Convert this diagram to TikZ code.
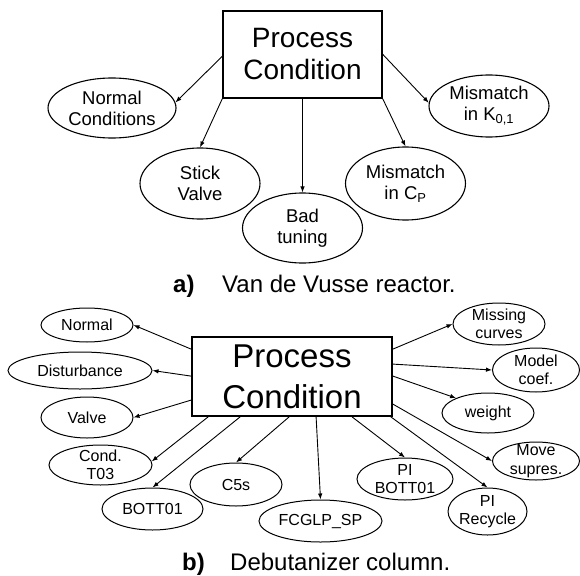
\documentclass[tikz,border=0pt]{standalone}
\usepackage{fontspec}
\setmainfont{Liberation Sans}
\usetikzlibrary{shapes.geometric,arrows.meta,calc}
\begin{document}
\begin{tikzpicture}[x=1pt,y=-1pt,
  bigbox/.style={draw,line width=1.4pt,inner sep=0pt,align=center},
  ovalA/.style={draw,ellipse,inner sep=0pt,line width=1.1pt},
  ovalB/.style={draw,ellipse,inner sep=0pt,line width=1pt},
  txtA/.style={align=center,inner sep=0pt,font=\fontsize{18.5}{21}\selectfont},
  txtB/.style={align=center,inner sep=0pt,font=\fontsize{16}{18.5}\selectfont},
  link/.style={-{Latex[length=6pt,width=4.5pt]},line width=0.9pt},
  capnum/.style={anchor=base west,inner sep=0pt,font=\fontsize{24}{28}\selectfont\bfseries},
  captext/.style={anchor=base west,inner sep=0pt,font=\fontsize{24}{28}\selectfont},
]
\useasboundingbox[fill=white] (0,0) rectangle (580,575);

% ---------- a) Van de Vusse reactor ----------
\node[bigbox,minimum width=159pt,minimum height=87pt,
      font=\fontsize{28}{32}\selectfont] (B1) at (302.5,54.5) {Process\\Condition};

\node[ovalA,minimum width=128pt,minimum height=60pt,
      label={[txtA]center:Normal\\Conditions}] (nNC) at (112,108) {};
\node[ovalA,minimum width=120pt,minimum height=71pt,
      label={[txtA]center:Stick\\Valve}] (nSV) at (200,183.5) {};
\node[ovalA,minimum width=120pt,minimum height=70pt,
      label={[txtA]center:Bad\\tuning}] (nBT) at (302.5,228) {};
\node[ovalA,minimum width=120pt,minimum height=73pt,
      label={[txtA]center:Mismatch\\in C\textsubscript{P}}] (nCp) at (405.5,183.5) {};
\node[ovalA,minimum width=120pt,minimum height=62pt,
      label={[txtA]center:Mismatch\\in K\textsubscript{0,1}}] (nK) at (489,106) {};

\coordinate (a1) at ($(B1.north west)+(0,46)$);
\coordinate (a5) at ($(B1.north east)+(0,44)$);
\draw[link] (a1) -- (nNC.5);
\draw[link] (B1.south west) -- (nSV.north);
\draw[link] (B1.south) -- (nBT.north);
\draw[link] (B1.south east) -- (nCp.north);
\draw[link] (a5) -- (nK.177);

\node[capnum] (capA) at (173,292) {a)};
\node[captext] (capAt) at (222,292) {Van de Vusse reactor.};

% ---------- b) Debutanizer column ----------
\node[bigbox,line width=1.8pt,minimum width=200pt,minimum height=79pt,
      font=\fontsize{33}{41}\selectfont] (B2) at (292,376.5) {Process\\Condition};

\node[ovalB,minimum width=92pt,minimum height=34pt,
      label={[txtB]center:Normal}] (mNormal) at (87,325) {};
\node[ovalB,minimum width=144pt,minimum height=37pt,
      label={[txtB]center:Disturbance}] (mDist) at (80,370.5) {};
\node[ovalB,minimum width=92pt,minimum height=41pt,
      label={[txtB]center:Valve}] (mValve) at (87,417.5) {};
\node[ovalB,minimum width=103pt,minimum height=40pt,
      label={[txtB]center:Cond.\\T03}] (mCond) at (100.5,465) {};
\node[ovalB,minimum width=101pt,minimum height=42pt,
      label={[txtB]center:BOTT01}] (mBott) at (152.5,509) {};
\node[ovalB,minimum width=92pt,minimum height=43pt,
      label={[txtB]center:C5s}] (mC5) at (236,484.5) {};
\node[ovalB,minimum width=123pt,minimum height=42pt,
      label={[txtB]center:FCGLP\_SP}] (mFC) at (320.5,521) {};
\node[ovalB,minimum width=96pt,minimum height=42pt,
      label={[txtB]center:PI\\BOTT01}] (mPIB) at (405,479) {};
\node[ovalB,minimum width=79pt,minimum height=47pt,
      label={[txtB]center:PI\\Recycle}] (mPIR) at (487.5,511.5) {};
\node[ovalB,minimum width=87pt,minimum height=38pt,
      label={[txtB]center:Move\\supres.}] (mMove) at (536,461) {};
\node[ovalB,minimum width=92pt,minimum height=40pt,
      label={[txtB]center:weight}] (mWeight) at (488,413) {};
\node[ovalB,minimum width=87pt,minimum height=44pt,
      label={[txtB]center:Model\\coef.}] (mModel) at (536,370) {};
\node[ovalB,minimum width=92pt,minimum height=42pt,
      label={[txtB]center:Missing\\curves}] (mMiss) at (499,324) {};

% start points on the box outline
\coordinate (bL1) at ($(B2.north west)+(0,13)$);
\coordinate (bL2) at ($(B2.north west)+(0,40)$);
\coordinate (bL3) at ($(B2.north west)+(0,64)$);
\coordinate (bB1) at ($(B2.south west)+(17,0)$);
\coordinate (bB2) at ($(B2.south west)+(49,0)$);
\coordinate (bB3) at ($(B2.south west)+(98,0)$);
\coordinate (bB4) at ($(B2.south west)+(125,0)$);
\coordinate (bB5) at ($(B2.south west)+(161,0)$);
\coordinate (bB6) at ($(B2.south east)+(-2,0)$);
\coordinate (bR1) at ($(B2.north east)+(0,13)$);
\coordinate (bR2) at ($(B2.north east)+(0,28)$);
\coordinate (bR3) at ($(B2.north east)+(0,40)$);
\coordinate (bR4) at ($(B2.north east)+(0,68)$);

\draw[link] (bL1) -- (mNormal.east);
\draw[link] (bL2) -- (mDist.east);
\draw[link] (bL3) -- (mValve.east);
\draw[link] (bB1) -- (mCond.4);
\draw[link] (bB2) -- (mBott.north);
\draw[link] (bB3) -- (mC5.north);
\draw[link] (bB4) -- (mFC.north);
\draw[link] (bB5) -- (mPIB.north);
\draw[link] (bB6) -- (mPIR.north);
\draw[link] (bR4) -- (mMove.west);
\draw[link] (bR3) -- (mWeight.155);
\draw[link] (bR2) -- (mModel.west);
\draw[link] (bR1) -- (mMiss.west);

\node[capnum] (capB) at (182,570) {b)};
\node[captext] (capBt) at (230,570) {Debutanizer column.};
\end{tikzpicture}
\end{document}
